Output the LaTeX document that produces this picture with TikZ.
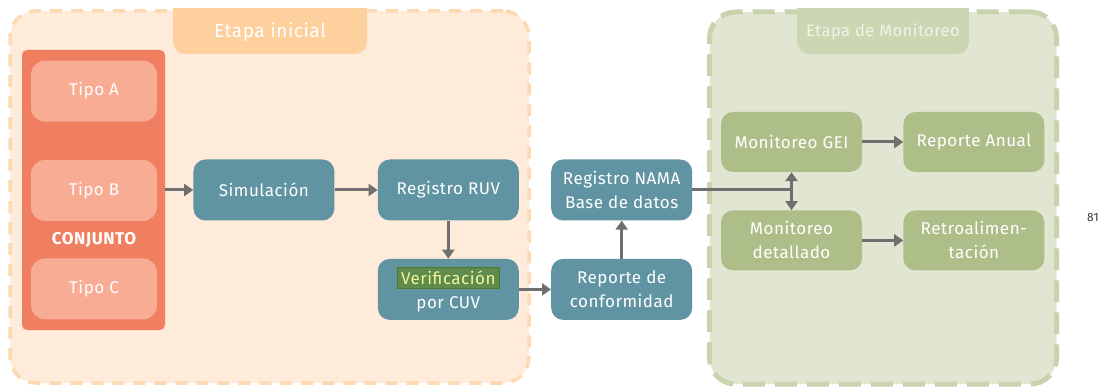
\documentclass[tikz,border=0pt]{standalone}
\usepackage{fontspec}
\setmainfont[LetterSpace=3]{Fira Sans}
\usetikzlibrary{arrows.meta,positioning}

\definecolor{inifill}{HTML}{FEEBDA}
\definecolor{iniborder}{HTML}{FDD9B3}
\definecolor{tabini}{HTML}{FDD09E}
\definecolor{conjfill}{HTML}{F07F61}
\definecolor{tipofill}{HTML}{F8AC93}
\definecolor{procteal}{HTML}{6194A2}
\definecolor{monifill}{HTML}{E1E6D2}
\definecolor{moniborder}{HTML}{C9D3AD}
\definecolor{tabmoni}{HTML}{CDD6B3}
\definecolor{tabmonitext}{HTML}{F0F3E8}
\definecolor{monigreen}{HTML}{AEBE88}
\definecolor{arrowgray}{HTML}{6F6F6F}
\definecolor{hlfill}{HTML}{5F8B4C}
\definecolor{hlborder}{HTML}{4E7A26}
\definecolor{hlyellow}{HTML}{F2F59A}
\definecolor{pagegray}{HTML}{3A3A3A}

\newcommand{\hlbox}[1]{{\setlength{\fboxsep}{3pt}\setlength{\fboxrule}{1.5pt}\fcolorbox{hlborder}{hlfill}{\textcolor{hlyellow}{#1}}}}

\begin{document}
\begin{tikzpicture}[
    x=1pt, y=-1pt,
    node distance=38pt,
    txt/.style={font=\fontsize{17}{24}\selectfont, text=white, align=center},
    stage/.style={rectangle, rounded corners=26pt},
    tab/.style={rectangle, rounded corners=12pt, minimum width=194pt, minimum height=44pt, font=\fontsize{19}{22}\selectfont},
    tipo/.style={rectangle, rounded corners=14pt, fill=tipofill, minimum width=126pt, minimum height=61pt, txt},
    proc/.style={rectangle, rounded corners=12pt, fill=procteal, minimum width=141pt, minimum height=61pt, txt},
    moni/.style={rectangle, rounded corners=12pt, fill=monigreen, minimum width=141pt, minimum height=60pt, txt},
    arrow/.style={-{Triangle[length=9pt,width=12pt]}, line width=3pt, draw=arrowgray},
    link/.style={line width=3pt, draw=arrowgray}
]
\useasboundingbox (0,0) rectangle (1115,387);

% Stages
\node[stage, fill=inifill, draw=iniborder, line width=3.5pt, dash pattern=on 12pt off 9pt,
      minimum width=519pt, minimum height=372pt] (inicial) at (269.5,197) {};
\node[stage, fill=monifill, draw=moniborder, line width=5pt, dash pattern=on 22pt off 10pt,
      minimum width=347pt, minimum height=372pt] (monitoreo) at (883,198) {};

% Stage titles
\fill[tabini] (173,8) rectangle (367,30);
\node[tab, fill=tabini, text=white] (initab) at (270,32) {Etapa inicial};
\fill[tabmoni] (797,8) rectangle (969,30);
\node[tab, fill=tabmoni, text=tabmonitext, minimum width=172pt, font=\fontsize{16.5}{20}\selectfont] (monitab) at (883,32) {Etapa de Monitoreo};

% Conjunto
\node[rectangle, rounded corners=5pt, fill=conjfill, minimum width=143pt, minimum height=280pt] (conj) at (93.5,190) {};
\node[tipo] (tipoB) at (94,190.5) {Tipo B};
\node[tipo, above=of tipoB] (tipoA) {Tipo A};
\node[tipo, below=37pt of tipoB] (tipoC) {Tipo C};
\node[txt, font=\fontsize{17}{20}\selectfont\bfseries] (conjlabel) at (94,240) {CONJUNTO};

% Initial process
\node[proc, right=28pt of conj] (sim) {Simulación};
\node[proc, right=43pt of sim] (ruv) {Registro RUV};
\node[proc, below=of ruv] (verif) {\hlbox{Verificación}\\por CUV};
\node[proc, right=32pt of verif] (conf) {Reporte de\\conformidad};
\node[proc, above=of conf] (nama) {Registro NAMA\\Base de datos};

% Monitoring
\node[moni] (gei) at (791.5,142) {Monitoreo GEI};
\node[moni, right=41pt of gei] (anual) {Reporte Anual};
\node[moni, below=of gei] (det) {Monitoreo\\detallado};
\node[moni, right=41pt of det] (retro) {Retroalimen-\\tación};

% Arrows
\draw[arrow] (conj) -- (sim);
\draw[arrow] (sim) -- (ruv);
\draw[arrow] (ruv) -- (verif);
\draw[arrow] (verif) -- (conf);
\draw[arrow] (conf) -- (nama);
\draw[link] (nama.east) -- (nama.east -| gei.south);
\draw[arrow, {Triangle[length=9pt,width=12pt]}-{Triangle[length=9pt,width=12pt]}] (gei) -- (det);
\draw[arrow] (gei) -- (anual);
\draw[arrow] (det) -- (retro);

% Page number
\node[font=\fontsize{12}{14}\selectfont, text=pagegray] (pagenum) at (1093,217) {81};

\end{tikzpicture}
\end{document}
